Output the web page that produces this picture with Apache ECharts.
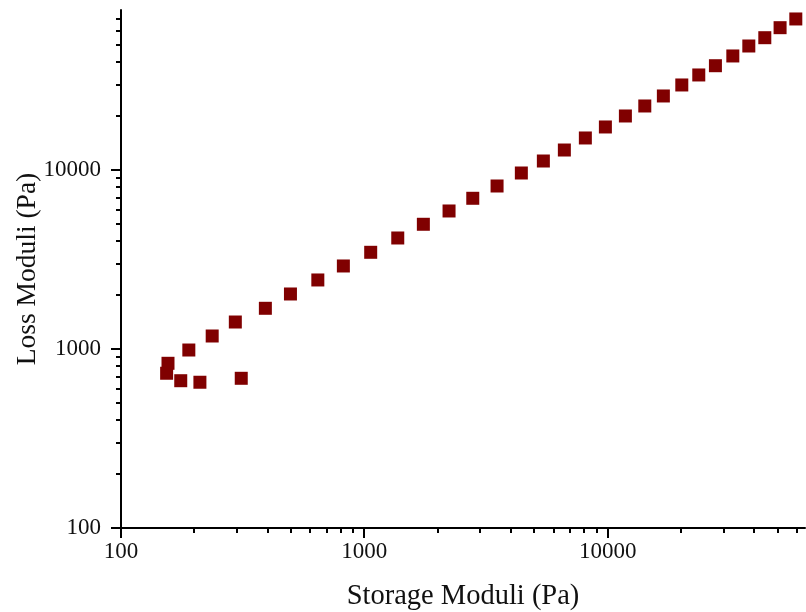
<!DOCTYPE html>
<html>
<head>
<meta charset="utf-8">
<script src="https://cdn.jsdelivr.net/npm/echarts@6/dist/echarts.min.js"></script>
<style>
  html, body { margin: 0; padding: 0; background: #fff; }
  #chart { width: 806px; height: 612px; }
</style>
</head>
<body>
<div id="chart"></div>
<script>
// Data (Pa)
const storageModuli = [154, 156, 176, 211, 312, 190, 237, 295, 392, 497, 644, 820, 1062, 1372, 1748, 2229, 2790, 3511, 4418, 5441, 6637, 8096, 9786, 11825, 14208, 16937, 20165, 23680, 27720, 32680, 38020, 44230, 51110, 59310];
const lossModuli = [732, 832, 665, 652, 686, 987, 1182, 1415, 1688, 2029, 2430, 2909, 3469, 4170, 4974, 5902, 6949, 8139, 9620, 11225, 12930, 15095, 17390, 20030, 22780, 25910, 29850, 33950, 38240, 43350, 49280, 54830, 62370, 69770];
const xRange = [100, 64700];
const yRange = [100, 78300];
const xTitle = 'Storage Moduli (Pa)';
const yTitle = 'Loss Moduli (Pa)';

const FONT = '"Liberation Serif", "Times New Roman", serif';
const points = storageModuli.map((x, i) => [x, lossModuli[i]]);

function isPow10(v) {
  const l = Math.log10(v);
  return Math.abs(l - Math.round(l)) < 1e-6;
}

const chart = echarts.init(document.getElementById('chart'), null, { renderer: 'canvas' });
const option = {
  animation: false,
  backgroundColor: '#fff',
  grid: { left: 121, right: 1, top: 10, bottom: 84, containLabel: false, outerBoundsMode: 'none' },
  xAxis: {
    type: 'log', logBase: 10, min: xRange[0], max: xRange[1],
    name: xTitle, nameLocation: 'middle', nameGap: 54,
    nameTextStyle: { fontFamily: FONT, fontSize: 28.5, color: '#111' },
    axisLine: { show: true, lineStyle: { color: '#000', width: 2 } },
    axisTick: { show: false },
    splitLine: { show: false },
    axisLabel: {
      fontFamily: FONT, fontSize: 23, color: '#111', margin: 12,
      showMaxLabel: false,
      formatter: v => isPow10(v) ? String(Math.round(v)) : ''
    }
  },
  yAxis: {
    type: 'log', logBase: 10, min: yRange[0], max: yRange[1],
    name: yTitle, nameLocation: 'middle', nameGap: 79, nameRotate: 90,
    nameMoveOverlap: false,
    nameTextStyle: { fontFamily: FONT, fontSize: 27.5, color: '#111' },
    axisLine: { show: true, lineStyle: { color: '#000', width: 2 } },
    axisTick: { show: false },
    splitLine: { show: false },
    axisLabel: {
      fontFamily: FONT, fontSize: 23, color: '#111', margin: 20,
      showMaxLabel: false,
      formatter: v => isPow10(v) ? String(Math.round(v)) : ''
    }
  },
  series: [{
    type: 'scatter',
    symbol: 'rect',
    symbolSize: 13,
    itemStyle: { color: '#800000', opacity: 1 },
    data: points
  }]
};
chart.setOption(option);

// Axis ticks (major + minor at 2..9 x decade), positioned via the chart's own scales
function buildTicks() {
  const els = [];
  const x0 = chart.convertToPixel({ gridIndex: 0 }, [xRange[0], yRange[0]]);
  const axisY = x0[1], axisX = x0[0];
  for (let d = 100; d <= xRange[1]; d *= 10) {
    for (let m = 1; m <= 9; m++) {
      const v = d * m;
      if (v < xRange[0] || v > xRange[1]) continue;
      const px = chart.convertToPixel({ gridIndex: 0 }, [v, yRange[0]])[0];
      const len = m === 1 ? 10 : 5;
      els.push({ type: 'line', shape: { x1: Math.round(px), y1: axisY, x2: Math.round(px), y2: axisY + len },
                 style: { stroke: '#000', lineWidth: 2 }, silent: true });
    }
  }
  for (let d = 100; d <= yRange[1]; d *= 10) {
    for (let m = 1; m <= 9; m++) {
      const v = d * m;
      if (v < yRange[0] || v > yRange[1]) continue;
      const py = chart.convertToPixel({ gridIndex: 0 }, [xRange[0], v])[1];
      const len = m === 1 ? 10 : 5;
      els.push({ type: 'line', shape: { x1: axisX, y1: Math.round(py), x2: axisX - len, y2: Math.round(py) },
                 style: { stroke: '#000', lineWidth: 2 }, silent: true });
    }
  }
  chart.setOption({ graphic: els });
}
buildTicks();
</script>
</body>
</html>
